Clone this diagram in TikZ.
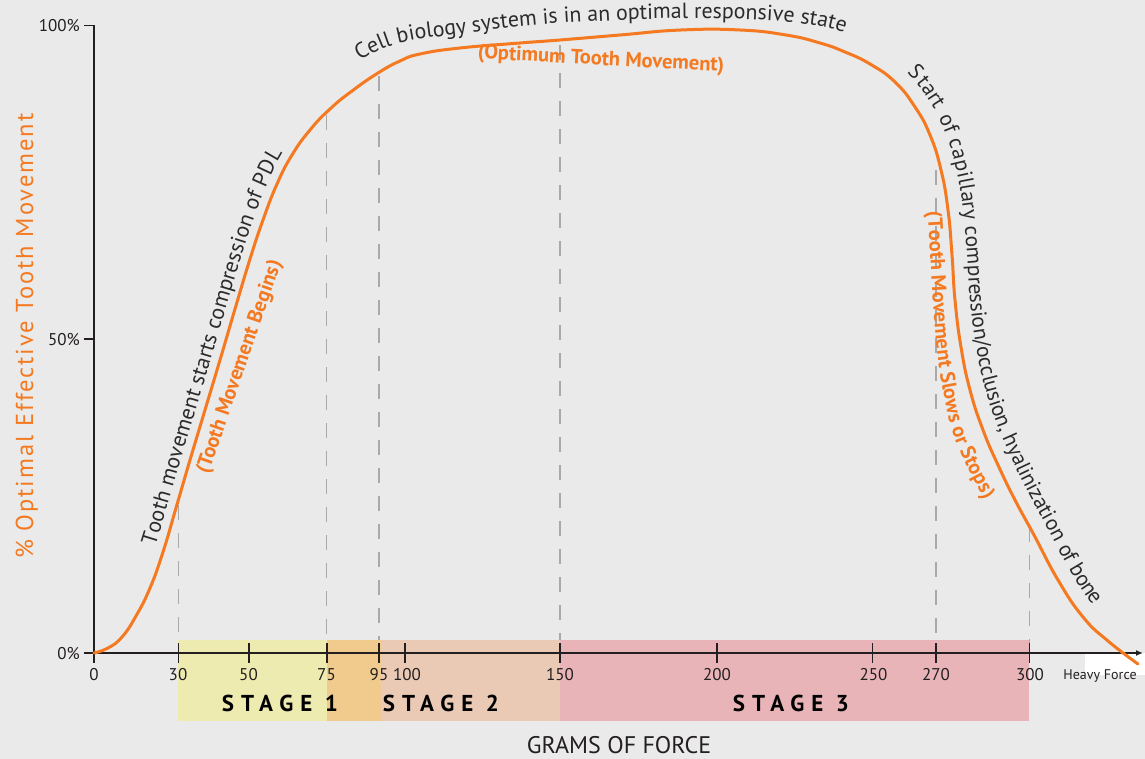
\documentclass[tikz,border=0pt]{standalone}
\usepackage{fontspec}
\setmainfont{PT Sans}
\newfontfamily\stagefont[LetterSpace=30]{PT Sans}
\newfontfamily\ytitlefont[LetterSpace=8]{PT Sans}
\usetikzlibrary{decorations.text,arrows.meta}
\definecolor{bg}{HTML}{E9EAE9}
\definecolor{curveor}{HTML}{F47920}
\definecolor{axisk}{HTML}{231F20}
\definecolor{dashg}{HTML}{A9A9A9}
\definecolor{stA}{HTML}{EEEBB1}
\definecolor{stAB}{HTML}{F0CB8D}
\definecolor{stB}{HTML}{EBCAB5}
\definecolor{stC}{HTML}{E8B4B8}
\definecolor{anno}{HTML}{2B2B2B}
\newcommand\annfont{\fontsize{21.5}{21.5}\selectfont\color{anno}}
\newcommand\annfontc{\fontsize{21.9}{21.9}\selectfont\color{anno}}
\newcommand\annfontb{\fontsize{22}{22}\selectfont\color{anno}}
\newcommand\orfont{\bfseries\fontsize{20.5}{20.5}\selectfont\color{curveor}}
\begin{document}
\begin{tikzpicture}[x=1pt,y=-1pt,
  ticklab/.style={font=\fontsize{17}{17}\selectfont, text=axisk, anchor=base, inner sep=0pt},
  ylab/.style={font=\fontsize{17}{17}\selectfont, text=axisk, anchor=base east, inner sep=0pt},
  stagelab/.style={font=\stagefont\bfseries\fontsize{23}{23}\selectfont, text=black, anchor=base, inner sep=0pt},
  orlab/.style={font=\bfseries\fontsize{20.5}{20.5}\selectfont, text=curveor, inner sep=0pt},
  dashv/.style={draw=dashg, line width=1.3pt, dash pattern=on 15pt off 13pt},
  axisline/.style={draw=axisk, line width=1.6pt},
  curveline/.style={draw=curveor, line width=3pt, line cap=round, line join=round}]
\fill[bg] (0,0) rectangle (1145,759);
\useasboundingbox (0,0) rectangle (1145,759);
% dashed guide lines
\foreach \xx/\yy in {178.3/505, 326.8/115, 378.9/76, 560/45, 936/170, 1029.3/527}
  \draw[dashv] (\xx,\yy) -- (\xx,653);
% stage bars
\fill[stA] (178.3,640) rectangle (326.8,720.7);
\fill[stAB] (326.8,640) rectangle (380.8,720.7);
\fill[stB] (380.8,640) rectangle (559.5,720.7);
\fill[stC] (559.5,640) rectangle (1029.3,720.7);
\node[stagelab] (s1) at (280,711.5) {STAGE 1};
\node[stagelab] (s2) at (441,711.5) {STAGE 2};
\node[stagelab] (s3) at (791,711.5) {STAGE 3};
% white box behind Heavy Force
\fill[white] (1085,653) rectangle (1145,675);
% axes
\draw[axisline] (84,25.7) -- (94,25.7) -- (94,663);
\draw[axisline] (84,339) -- (94,339);
\draw[axisline] (84,653) -- (94,653);
\draw[axisline, -{Latex[length=7pt,width=6pt]}] (94,653) -- (1143,653);
\draw[draw=axisk, line width=2.6pt] (436,653) -- (588,653);
\foreach \xx in {178.3, 248.8, 326.8, 378.9, 405, 560, 717, 872.6, 936, 1029.3}
  \draw[axisline] (\xx,643) -- (\xx,663);
% tick labels
\foreach \xx/\lab/\nm in {94/0/a, 178/30/b, 248.5/50/c, 326.5/75/d, 379/95/e, 407/100/f, 560/150/g, 717/200/h, 873.5/250/i, 936/270/j, 1030/300/k}
  \node[ticklab] (t\nm) at (\xx,680) {\lab};
\node[font=\fontsize{14}{14}\selectfont, text=axisk, anchor=base, inner sep=0pt] (hf) at (1100,679) {Heavy Force};
\node[ylab] (y100) at (80,32) {100\%};
\node[ylab] (y50) at (80,345.5) {50\%};
\node[ylab] (y0) at (80,659) {0\%};
% axis titles
\node[font=\fontsize{24}{24}\selectfont, text=axisk, anchor=base, inner sep=0pt] (xt) at (619,753) {GRAMS OF FORCE};
\node[font=\ytitlefont\fontsize{24.5}{24.5}\selectfont, text=curveor, anchor=base, rotate=90, inner sep=0pt] (yt) at (33,336) {\% Optimal Effective Tooth Movement};
% curve
\draw[curveline] plot[smooth, tension=0.8] coordinates {(94,653) (108,648) (122,637) (136,616) (150,588) (163,552) (176,508) (190,460) (205,410) (220,360) (235,309) (250,259) (263,220) (277,184) (292,155) (310,130) (330,109) (352,91) (378,73) (400,61) (420,54) (460,48) (520,43) (560,40) (620,35) (681,30) (740,30) (786,35) (820,43) (845,52) (870,64) (895,82) (915,107) (930,135) (941,170) (948,210) (952,255) (955,300) (961,347) (970,390) (983,430) (998,465) (1015,500) (1034,535) (1058,580) (1083,617) (1108,641) (1138,664)};
% curved annotations
\path[decorate, decoration={text along path, text={|\annfontb|Tooth movement starts compression of PDL}, text align={left indent=73pt}, raise=9pt}] plot[smooth, tension=0.8] coordinates {(136,616) (150,588) (163,552) (176,508) (190,460) (205,410) (220,360) (235,309) (250,259) (263,220) (277,184) (292,155) (310,130) (330,109) (352,91)};
\path[decorate, decoration={text along path, text={|\annfontc|Cell biology system is in an optimal responsive state}, text align={left indent=0pt}}] plot[smooth, tension=0.7] coordinates {(360,61) (398,43.5) (467,33) (530,25.5) (611,20.5) (688,18.5) (750,19.5) (796,23) (842,32) (885,50) (910,65)};
\path[decorate, decoration={text along path, text={|\annfont|Start of capillary compression/occlusion, hyalinization of bone}, text align={left indent=60pt}, raise=15pt}] plot[smooth, tension=0.8] coordinates {(845,52) (870,64) (895,82) (915,107) (930,135) (941,170) (948,210) (952,255) (955,300) (961,347) (970,390) (983,430) (998,465) (1015,500) (1034,535) (1058,580) (1083,617) (1108,641) (1138,664)};
\path[decorate, decoration={text along path, text={|\orfont|(Tooth Movement Slows or Stops)}, text align={left indent=12pt}}] plot[smooth, tension=0.8] coordinates {(927,200) (930,250) (933,300) (937,350) (943,390) (952,430) (964,460) (979,490) (995,520) (1010,545)};
% orange labels
\node[orlab, rotate=-3] (opt) at (601,60) {(Optimum Tooth Movement)};
\node[orlab, rotate=71] (beg) at (240,367) {(Tooth Movement Begins)};
\end{tikzpicture}
\end{document}
